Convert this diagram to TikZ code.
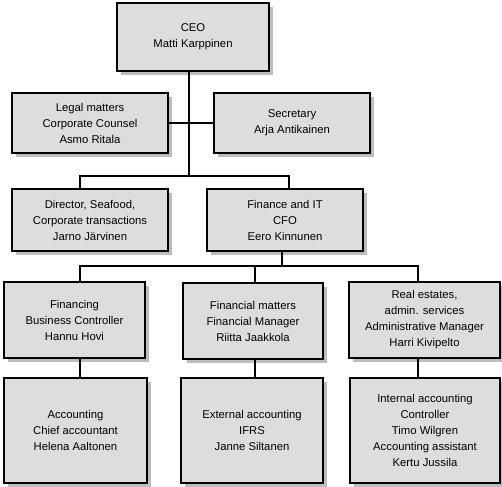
\documentclass[tikz,border=0pt]{standalone}
\usepackage{fontspec}
\setmainfont{Liberation Sans}
\begin{document}
\begin{tikzpicture}[x=1pt,y=-1pt,
  box/.style={draw=black, line width=2.2pt, fill=boxgray, align=center,
    font=\fontsize{11.3}{16}\selectfont, inner sep=0pt},
  conn/.style={draw=black, line width=1.6pt}]
\definecolor{boxgray}{HTML}{DDDDDD}
\definecolor{shadowgray}{HTML}{BDBDBD}
\useasboundingbox (0,0) rectangle (502,486);
% shadows
\foreach \a/\b/\c/\d in {117/3/269/71, 12/93/168/153, 214/93/370/153, 12/189/168/251, 207/189/363/251,
  4/282/145/358, 183/283/323/359, 349/282/500/358, 4/378/147/483, 181/378/323/483, 350/378/500/483}
  \fill[shadowgray] (\a+4,\b+4) rectangle (\c+4,\d+4);
% boxes
\node[box, minimum width=152pt, minimum height=68pt] (ceo) at (193,37) {CEO\\Matti Karppinen};
\node[box, minimum width=156pt, minimum height=60pt] (legal) at (90,123) {Legal matters\\Corporate Counsel\\Asmo Ritala};
\node[box, minimum width=156pt, minimum height=60pt] (sec) at (292,123) {Secretary\\Arja Antikainen};
\node[box, minimum width=156pt, minimum height=62pt] (dir) at (90,220) {Director, Seafood,\\Corporate transactions\\Jarno Järvinen};
\node[box, minimum width=156pt, minimum height=62pt] (fin) at (285,220) {Finance and IT\\CFO\\Eero Kinnunen};
\node[box, minimum width=141pt, minimum height=76pt] (finan) at (74.5,320) {Financing\\Business Controller\\Hannu Hovi};
\node[box, minimum width=140pt, minimum height=76pt] (finm) at (253,321) {Financial matters\\Financial Manager\\Riitta Jaakkola};
\node[box, minimum width=151pt, minimum height=76pt] (real) at (424.5,320) {Real estates,\\admin. services\\Administrative Manager\\Harri Kivipelto};
\node[box, minimum width=143pt, minimum height=105pt] (acc) at (75.5,430.5) {Accounting\\Chief accountant\\Helena Aaltonen};
\node[box, minimum width=142pt, minimum height=105pt] (ext) at (252,430.5) {External accounting\\IFRS\\Janne Siltanen};
\node[box, minimum width=150pt, minimum height=105pt] (int) at (425,430.5) {Internal accounting\\Controller\\Timo Wilgren\\Accounting assistant\\Kertu Jussila};
% connectors
\coordinate (j1) at (189,176);
\coordinate (j2) at (282,266);
\draw[conn] (ceo.south -| j1) -- (j1);
\draw[conn] (legal.east) -- (sec.west);
\draw[conn] (dir.north -| 80,0) |- (j1) -| (fin.north -| 289,0);
\draw[conn] (fin.south -| j2) -- (j2);
\draw[conn] (finan.north -| 80,0) |- (j2) -| (real.north -| 418,0);
\draw[conn] (finm.north -| 255,0) -- (255,266);
\draw[conn] (finan.south -| 80,0) -- (acc.north -| 80,0);
\draw[conn] (finm.south -| 255,0) -- (ext.north -| 255,0);
\draw[conn] (real.south -| 418,0) -- (int.north -| 418,0);
\end{tikzpicture}
\end{document}
